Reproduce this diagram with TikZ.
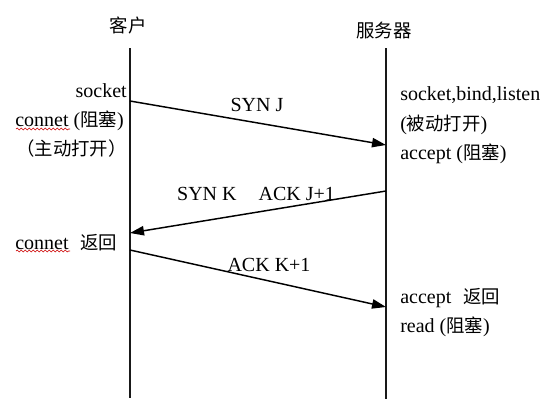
\documentclass[tikz,border=0pt]{standalone}
\usepackage{fontspec}
\setmainfont{Liberation Serif}
\newfontfamily\cjk{Noto Sans CJK SC}
\usetikzlibrary{arrows.meta,decorations.pathmorphing}
\newcommand{\zh}[1]{{\cjk\fontsize{13.8}{16}\selectfont #1}}
\tikzset{
  life/.style={line width=1.3pt,black!90},
  msg/.style={line width=1.1pt,-{Triangle[length=10.5pt,width=7pt]}},
  lbl/.style={inner sep=0pt,font=\fontsize{15}{17}\selectfont},
  squig/.style={red!80!black,line width=0.45pt,decorate,decoration={snake,amplitude=0.7pt,segment length=3pt}}
}
\begin{document}
\begin{tikzpicture}[x=0.75pt,y=-0.75pt]
\useasboundingbox (0,0) rectangle (548,415);
% lifelines
\coordinate (ctop) at (130,48);
\coordinate (cbot) at (130,398);
\coordinate (stop) at (386,48);
\coordinate (sbot) at (386,399);
\draw[life] (ctop) -- (cbot);
\draw[life] (stop) -- (sbot);
% headers
\node[lbl] (hc) at (128,25) {\zh{客户}};
\node[lbl] (hs) at (384,31) {\zh{服务器}};
% message endpoints
\coordinate (m1a) at (130,101);
\coordinate (m1b) at (386,145);
\coordinate (m2a) at (386,191);
\coordinate (m2b) at (130,233);
\coordinate (m3a) at (130,250);
\coordinate (m3b) at (386,307);
\draw[msg] (m1a) -- (m1b);
\draw[msg] (m2a) -- (m2b);
\draw[msg] (m3a) -- (m3b);
% message labels
\node[lbl] (l1) at (257,105) {SYN J};
\node[lbl] (l2) at (256,194) {SYN K\hspace{1.1em}ACK J+1};
\node[lbl] (l3) at (269,265) {ACK K+1};
% client side text
\node[lbl,anchor=east] (t1) at (127,91) {socket};
\node[lbl,anchor=west] (t2) at (15,121) {connet (\zh{阻塞})};
\node[lbl,anchor=east] (t3) at (127,149) {\zh{（主动打开）}};
\node[lbl,anchor=west] (t4) at (15,243) {connet\hspace{0.6em}\zh{返回}};
\coordinate (u1a) at (16,129);
\coordinate (u1b) at (70,129);
\coordinate (u2a) at (16,251);
\coordinate (u2b) at (70,251);
\draw[squig] (u1a) -- (u1b);
\draw[squig] (u2a) -- (u2b);
% server side text
\node[lbl,anchor=west] (r1) at (400,95) {socket,bind,listen};
\node[lbl,anchor=west] (r2) at (400,125) {(\zh{被动打开})};
\node[lbl,anchor=west] (r3) at (400,154) {accept (\zh{阻塞})};
\node[lbl,anchor=west] (r4) at (400,298) {accept\hspace{0.6em}\zh{返回}};
\node[lbl,anchor=west] (r5) at (400,327) {read (\zh{阻塞})};
\end{tikzpicture}
\end{document}
